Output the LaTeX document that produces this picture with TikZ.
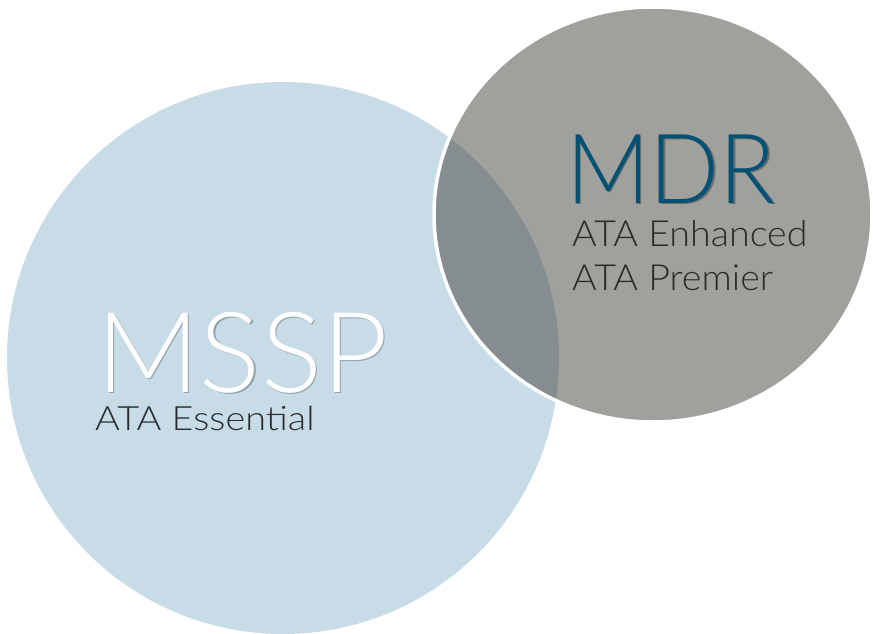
\documentclass[tikz,border=0pt]{standalone}
\usepackage{fontspec}
\usepackage{graphicx}
\setmainfont{Lato}
\newfontfamily\thinfont{Lato Light}
\definecolor{paleblue}{HTML}{C8DCE8}
\definecolor{stone}{HTML}{A0A09C}
\definecolor{slate}{HTML}{858D8F}
\definecolor{deepteal}{HTML}{005173}
\definecolor{ink}{HTML}{2B2B2B}
\definecolor{blueshade}{HTML}{8FA2AD}
\definecolor{stoneshade}{HTML}{6C6C69}
% horizontal stretch of a label
\newcommand{\hstretch}[2]{\scalebox{#1}[1]{#2}}
% label with a soft drop shadow: #1 shadow colour, #2 text
\newcommand{\shadowed}[2]{%
  \rlap{\kern1.5pt\raisebox{-1.8pt}{\textcolor{#1}{#2}}}#2}
\tikzset{
  title/.style={anchor=base west, inner sep=0pt},
  subtitle/.style={anchor=base west, inner sep=0pt, text=ink}
}
\begin{document}
\begin{tikzpicture}[x=1pt,y=-1pt]
  \useasboundingbox (0,0) rectangle (873,634);
  % MSSP disc
  \fill[paleblue] (283,358) circle[radius=276pt];
  % MDR disc
  \fill[stone] (653,214.5) ellipse[x radius=219pt, y radius=207.5pt];
  % overlap of the two discs
  \begin{scope}
    \clip (283,358) circle[radius=276pt];
    \fill[slate] (653,214.5) ellipse[x radius=219pt, y radius=207.5pt];
  \end{scope}
  % white rim of the MDR disc
  \draw[white, line width=3.5pt] (653,214.5) ellipse[x radius=219pt, y radius=207.5pt];

  % MSSP label
  \node[title, text=white, font=\thinfont\fontsize{112}{112}\selectfont] (mssp) at (96,392)
    {\hstretch{1.02}{\shadowed{blueshade}{MSSP}}};
  \node[subtitle, font=\thinfont\fontsize{33.5}{33.5}\selectfont] (essential) at (95,430)
    {\hstretch{1.13}{ATA Essential}};

  % MDR label
  \node[title, text=deepteal, font=\thinfont\fontsize{97}{97}\selectfont] (mdr) at (566,203)
    {\hstretch{0.95}{\shadowed{stoneshade}{MDR}}};
  \node[subtitle, font=\thinfont\fontsize{36}{36}\selectfont] (enhanced) at (572,246)
    {\hstretch{1.045}{ATA Enhanced}};
  \node[subtitle, font=\thinfont\fontsize{36}{36}\selectfont] (premier) at (572,290)
    {\hstretch{1.045}{ATA Premier}};
\end{tikzpicture}
\end{document}
